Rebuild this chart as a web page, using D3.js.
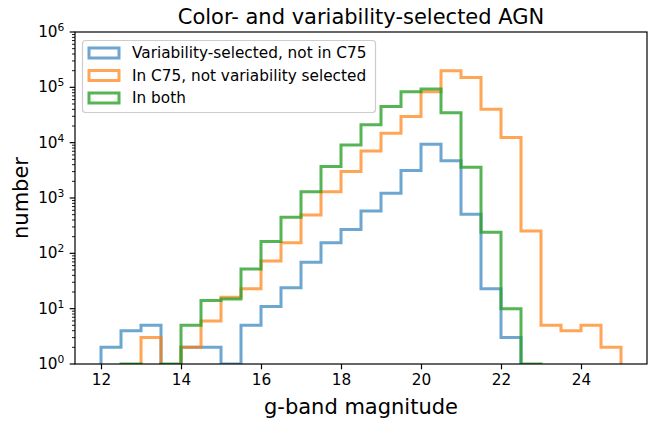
<!DOCTYPE html>
<html>
<head>
<meta charset="utf-8">
<script src="https://cdn.jsdelivr.net/npm/d3@7"></script>
<style>
  html, body { margin: 0; padding: 0; background: #fff; }
  svg { display: block; font-family: "DejaVu Sans", sans-serif; }
</style>
</head>
<body>
<svg id="chart" width="660" height="424"></svg>
<script>
// Histogram bin edges: 12.0 to 25.0 in 0.5 mag steps
const binEdges = d3.range(12, 25.001, 0.5);

// Counts per bin (26 bins)
const varOnly = [2, 4, 5, 0, 2, 2, 1, 5, 11, 24, 69, 156, 271, 585, 1220, 3130,
                 9400, 4700, 509, 23, 3, 0, 0, 0, 0, 0];
const c75Only = [0, 0, 3, 0, 2, 6, 16, 23, 73, 156, 495, 1300, 3000, 7100, 14800, 29700,
                 83500, 199000, 150000, 40300, 12400, 254, 5, 4, 5, 2];
const inBoth  = [0, 1, 0, 1, 5, 14, 15, 52, 163, 450, 1300, 3700, 9100, 21000, 45000, 83400,
                 93300, 34800, 3590, 240, 10, 1, 0, 0, 0, 0];

const seriesNames = ["Variability-selected, not in C75", "In C75, not variability selected", "In both"];
const seriesColors = ["#1f77b4", "#ff7f0e", "#2ca02c"];
const seriesAlpha = [0.65, 0.7, 0.8];
const xTicks = [12, 14, 16, 18, 20, 22, 24];
const yTickExps = [0, 1, 2, 3, 4, 5, 6];

const W = 660, H = 424;
const margin = { left: 75, right: 13, top: 32, bottom: 60 };
const pw = W - margin.left - margin.right;
const ph = H - margin.top - margin.bottom;

const svg = d3.select("#chart");

const x = d3.scaleLinear().domain([11.35, 25.65]).range([0, pw]);
const y = d3.scaleLog().domain([1, 1e6]).range([ph, 0]);

const g = svg.append("g").attr("transform", `translate(${margin.left},${margin.top})`);

svg.append("defs").append("clipPath").attr("id", "plotclip")
  .append("rect").attr("x", 0).attr("y", 0).attr("width", pw).attr("height", ph);

// Step outline for one histogram: empty bins drop below the log axis
function stepPoints(counts) {
  const yv = c => (c > 0 ? y(c) : y(1e-3));
  const pts = [[x(binEdges[0]), y(1e-3)]];
  counts.forEach((c, i) => {
    pts.push([x(binEdges[i]), yv(c)]);
    pts.push([x(binEdges[i + 1]), yv(c)]);
  });
  pts.push([x(binEdges[binEdges.length - 1]), y(1e-3)]);
  return pts;
}

const line = d3.line();
const plot = g.append("g").attr("clip-path", "url(#plotclip)");
[varOnly, c75Only, inBoth].forEach((counts, k) => {
  plot.append("path")
    .attr("d", line(stepPoints(counts)))
    .attr("fill", "none")
    .attr("stroke", seriesColors[k])
    .attr("stroke-opacity", seriesAlpha[k])
    .attr("stroke-width", 3)
    .attr("stroke-linejoin", "miter");
});

// X axis
const xAxis = g.append("g").attr("transform", `translate(0,${ph})`)
  .call(d3.axisBottom(x).tickValues(xTicks).tickFormat(d3.format("d")).tickSize(5.3).tickPadding(4.5));
xAxis.select(".domain").remove();
xAxis.selectAll(".tick line").attr("stroke", "#000").attr("stroke-width", 1.2);
xAxis.selectAll(".tick text").attr("font-size", "15.3px").attr("fill", "#000")
  .attr("font-family", "DejaVu Sans");

// Y axis: major ticks at decades, minor ticks at 2..9
const minor = [];
for (let e = 0; e < 6; e++) for (let m = 2; m <= 9; m++) minor.push(m * Math.pow(10, e));
const yMinor = g.append("g");
yMinor.selectAll("line").data(minor).join("line")
  .attr("x1", -3).attr("x2", 0)
  .attr("y1", d => y(d)).attr("y2", d => y(d))
  .attr("stroke", "#000").attr("stroke-width", 0.9);

const yMajor = g.append("g");
const yt = yMajor.selectAll("g").data(yTickExps).join("g")
  .attr("transform", e => `translate(0,${y(Math.pow(10, e))})`);
yt.append("line").attr("x1", -5.3).attr("x2", 0).attr("stroke", "#000").attr("stroke-width", 1.2);
const ylab = yt.append("text")
  .attr("x", -10.6).attr("y", 0).attr("text-anchor", "end")
  .attr("font-size", "15.3px").attr("fill", "#000");
ylab.append("tspan").attr("dy", "0.32em").text("10");
ylab.append("tspan").attr("dy", "-0.55em").attr("font-size", "10.7px").text(e => e);

// Frame
g.append("rect").attr("x", 0).attr("y", 0).attr("width", pw).attr("height", ph)
  .attr("fill", "none").attr("stroke", "#000").attr("stroke-width", 1.2);

// Title and axis labels
svg.append("text").attr("x", margin.left + pw / 2).attr("y", 24)
  .attr("text-anchor", "middle").attr("font-size", "21px").attr("fill", "#000")
  .text("Color- and variability-selected AGN");
svg.append("text").attr("x", margin.left + pw / 2).attr("y", 414)
  .attr("text-anchor", "middle").attr("font-size", "21px").attr("fill", "#000")
  .text("g-band magnitude");
svg.append("text").attr("transform", `translate(28,${margin.top + ph / 2}) rotate(-90)`)
  .attr("text-anchor", "middle").attr("font-size", "21px").attr("fill", "#000")
  .text("number");

// Legend
const leg = svg.append("g");
leg.append("rect").attr("x", 82.5).attr("y", 40.5).attr("width", 293).attr("height", 72)
  .attr("rx", 3).attr("fill", "#fff").attr("fill-opacity", 0.8)
  .attr("stroke", "#cccccc").attr("stroke-width", 1.2);
const rowY = [53, 75.5, 98];
seriesNames.forEach((name, k) => {
  leg.append("rect").attr("x", 89).attr("y", rowY[k] - 5).attr("width", 30).attr("height", 10)
    .attr("fill", "none").attr("stroke", seriesColors[k]).attr("stroke-opacity", seriesAlpha[k])
    .attr("stroke-width", 3);
  leg.append("text").attr("x", 132).attr("y", rowY[k]).attr("dy", "0.35em")
    .attr("font-size", "15.3px").attr("fill", "#000").text(name);
});
</script>
</body>
</html>
